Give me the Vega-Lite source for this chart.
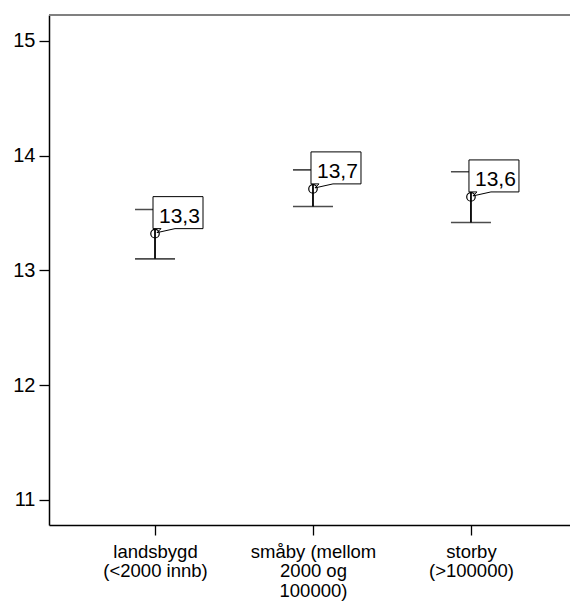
{
  "$schema": "https://vega.github.io/schema/vega-lite/v6.json",
  "width": 521,
  "height": 510,
  "autosize": "none",
  "padding": {"left": 49, "top": 15, "right": 0, "bottom": 80},
  "background": "white",
  "config": {
    "view": {"stroke": null},
    "font": "Liberation Sans",
    "axis": {"grid": false, "domainColor": "black", "domainWidth": 1.5, "tickColor": "black", "tickWidth": 1.3, "tickSize": 10, "labelColor": "black", "labelFont": "Liberation Sans", "title": null}
  },
  "data": {
    "values": [
      {"kat": "landsbygd (<2000 innb)", "mean": 13.32, "lo": 13.10, "hi": 13.53, "label": "13,3"},
      {"kat": "småby (mellom 2000 og 100000)", "mean": 13.71, "lo": 13.556, "hi": 13.876, "label": "13,7"},
      {"kat": "storby (>100000)", "mean": 13.64, "lo": 13.417, "hi": 13.86, "label": "13,6"}
    ]
  },
  "encoding": {
    "x": {
      "field": "kat", "type": "nominal", "sort": null,
      "scale": {"type": "point", "padding": 0.649, "align": 0.517},
      "axis": {
        "labelAngle": 0, "labelFontSize": 18.5, "labelLineHeight": 19.5, "labelPadding": 7,
        "labelBaseline": "top",
        "labelExpr": "datum.value == 'landsbygd (<2000 innb)' ? ['landsbygd', '(<2000 innb)'] : datum.value == 'storby (>100000)' ? ['storby', '(>100000)'] : ['småby (mellom', '2000 og', '100000)']"
      }
    }
  },
  "layer": [
    {
      "mark": {"type": "rule", "stroke": "#808080", "strokeWidth": 2},
      "encoding": {"x": null, "y": {"datum": 15.226, "type": "quantitative"}}
    },
    {
      "mark": {"type": "rule", "stroke": "black", "strokeWidth": 1.8},
      "encoding": {
        "y": {"field": "lo", "type": "quantitative", "scale": {"domain": [10.78, 15.226], "zero": false, "nice": false},
          "axis": {"values": [11, 12, 13, 14, 15], "labelFontSize": 20, "labelPadding": 4, "format": "d"}},
        "y2": {"field": "hi"}
      }
    },
    {
      "mark": {"type": "tick", "orient": "horizontal", "size": 40, "thickness": 1.6, "color": "black"},
      "encoding": {"y": {"field": "lo", "type": "quantitative"}}
    },
    {
      "mark": {"type": "tick", "orient": "horizontal", "size": 40, "thickness": 1.6, "color": "black"},
      "encoding": {"y": {"field": "hi", "type": "quantitative"}}
    },
    {
      "mark": {"type": "point", "shape": "M -2,-5 V -37 H 48 V -5 H 20 L 2,-1 L 6,-5 Z", "size": 4, "filled": true, "fill": "white", "stroke": "black", "strokeWidth": 1, "opacity": 1},
      "encoding": {"y": {"field": "mean", "type": "quantitative"}}
    },
    {
      "mark": {"type": "point", "shape": "circle", "size": 72, "filled": false, "stroke": "black", "strokeWidth": 1.2, "opacity": 1},
      "encoding": {"y": {"field": "mean", "type": "quantitative"}}
    },
    {
      "mark": {"type": "text", "align": "left", "baseline": "alphabetic", "dx": 4, "dy": -11, "fontSize": 21, "color": "black"},
      "encoding": {"y": {"field": "mean", "type": "quantitative"}, "text": {"field": "label"}}
    }
  ]
}
